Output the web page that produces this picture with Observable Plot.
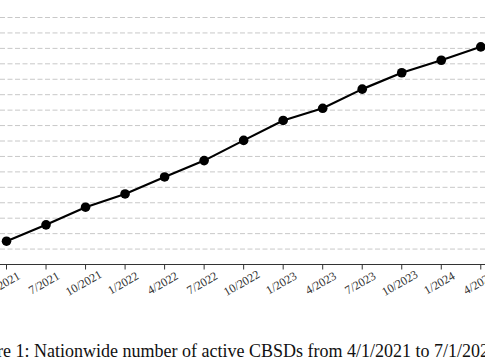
<!DOCTYPE html>
<html>
<head>
<meta charset="utf-8">
<script src="https://cdn.jsdelivr.net/npm/d3@7"></script>
<script src="https://cdn.jsdelivr.net/npm/@observablehq/plot@0.6"></script>
<style>
  html, body { margin: 0; padding: 0; background: #fff; overflow: hidden; width: 485px; height: 360px; }
  #chart { position: absolute; left: 0; top: 0; }
  #cap { position: absolute; left: -36px; top: 341.6px; font-family: "Liberation Serif", "Times New Roman", serif; font-size: 18px; line-height: 1; white-space: nowrap; color: #111; }
</style>
</head>
<body>
<div id="chart"></div>
<div id="cap">Figure 1: Nationwide number of active CBSDs from 4/1/2021 to 7/1/2024</div>
<script>
// Quarter labels (4/2021 .. 7/2024)
const quarterLabels = ["4/2021","7/2021","10/2021","1/2022","4/2022","7/2022","10/2022","1/2023","4/2023","7/2023","10/2023","1/2024","4/2024","7/2024"];
const activeCBSDs = [30.2, 51.4, 74.2, 91.4, 113.4, 134.6, 160.8, 186.6, 202.4, 227.2, 248.4, 264.6, 282.0];
// Horizontal grid values (thousands)
const gridValues = d3.range(20, 321, 20);

const points = activeCBSDs.map((v, i) => ({i, v, label: quarterLabels[i]}));
const ticks = quarterLabels.map((label, i) => ({i, label}));

const chart = Plot.plot({
  width: 485,
  height: 310,
  marginLeft: 0,
  marginRight: 0,
  marginTop: 17,
  marginBottom: 46,
  style: {fontFamily: "'Liberation Serif', 'Times New Roman', serif", background: "#fff"},
  x: {domain: [-0.152, 12.119], axis: null},
  y: {domain: [0, 320], axis: null},
  marks: [
    Plot.gridY(gridValues, {stroke: "#c8c8c8", strokeOpacity: 1, strokeWidth: 1, strokeDasharray: "5,2.5"}),
    Plot.ruleY([0], {stroke: "#333", strokeWidth: 1.2}),
    Plot.axisX(d3.range(quarterLabels.length), {tickSize: 5.5, tickFormat: () => "", stroke: "#333", label: null}),
    Plot.line(points, {x: "i", y: "v", stroke: "#000", strokeWidth: 2.2}),
    Plot.dot(points, {x: "i", y: "v", r: 4.8, fill: "#000", stroke: "none"}),
    Plot.text(ticks, {x: "i", text: "label", frameAnchor: "bottom", rotate: -30, dy: 22, fontSize: 12, fill: "#333"})
  ]
});
document.getElementById("chart").appendChild(chart);
</script>
</body>
</html>
